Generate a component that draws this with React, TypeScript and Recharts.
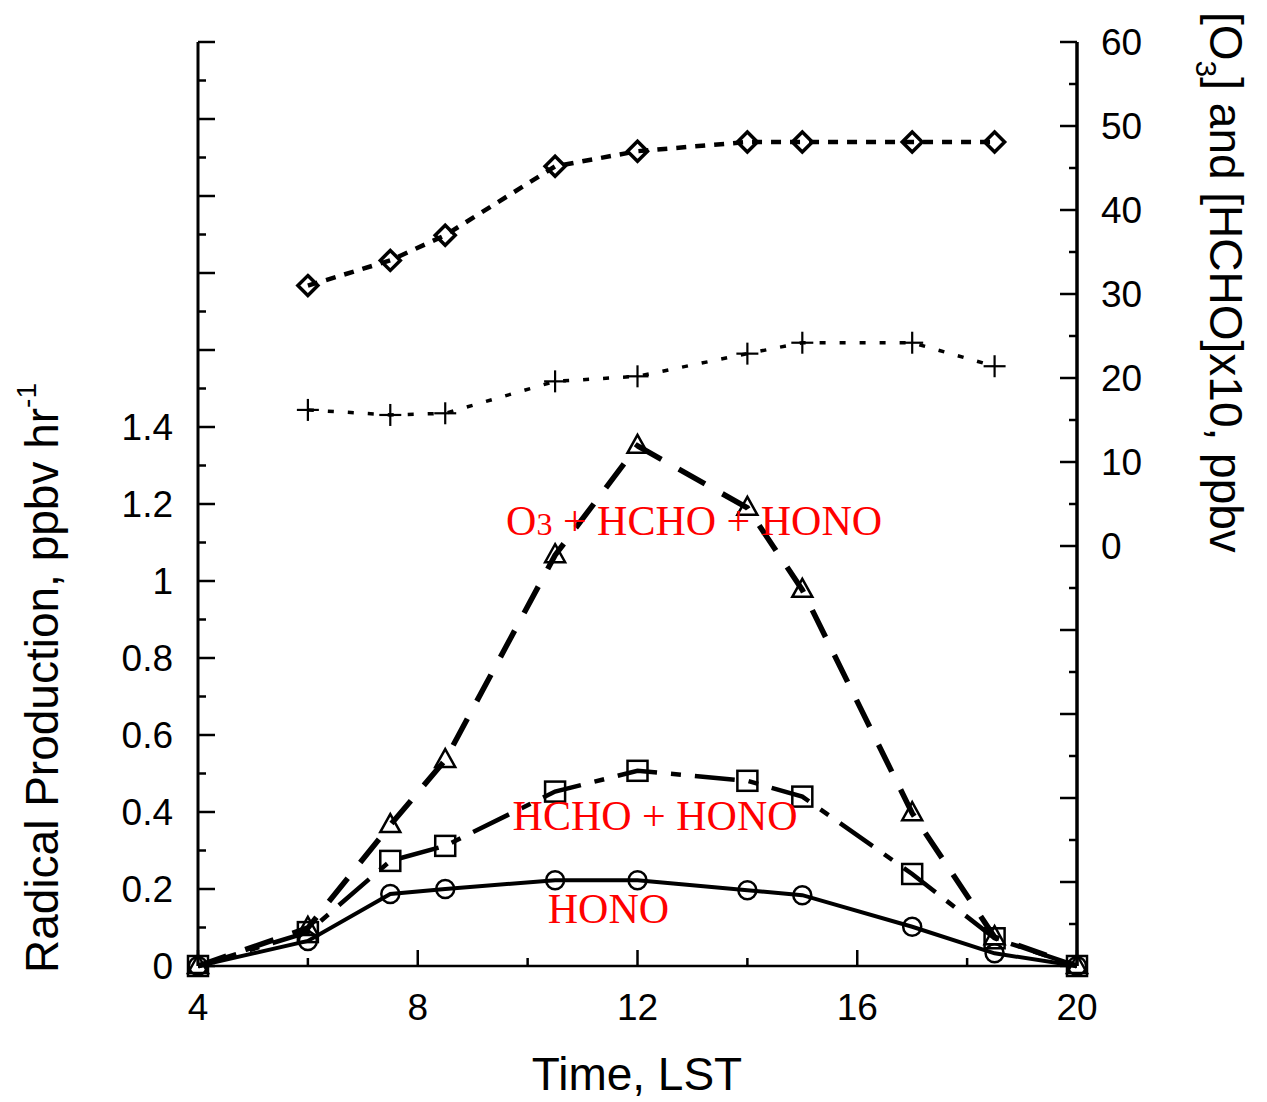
import React from "react";
import { LineChart, Line, XAxis, YAxis, ReferenceDot, Customized } from "recharts";

// hours of day (LST)
const hours = [4, 6, 7.5, 8.5, 10.5, 12, 14, 15, 17, 18.5, 20];
// radical production, ppbv/hr (left axis)
const hono = [0, 0.065, 0.187, 0.2, 0.223, 0.223, 0.197, 0.184, 0.102, 0.033, 0];
const hchoHono = [0, 0.088, 0.273, 0.312, 0.453, 0.507, 0.481, 0.44, 0.239, 0.072, 0];
const o3HchoHono = [0, 0.099, 0.366, 0.535, 1.067, 1.351, 1.19, 0.977, 0.397, 0.075, 0];
// concentrations, ppbv (right axis)
const o3 = [null, 31.0, 34.0, 37.0, 45.2, 47.0, 48.1, 48.1, 48.1, 48.1, null];
const hchoX10 = [null, 16.2, 15.6, 15.8, 19.6, 20.2, 22.9, 24.2, 24.2, 21.4, null];

const xTicks = [4, 6, 8, 10, 12, 14, 16, 18, 20];
const xLabels = [4, 8, 12, 16, 20];
const leftTicks = [0, 0.1, 0.2, 0.3, 0.4, 0.5, 0.6, 0.7, 0.8, 0.9, 1, 1.1, 1.2, 1.3, 1.4, 1.5, 1.6, 1.7, 1.8, 1.9, 2, 2.1, 2.2, 2.3, 2.4];
const leftLabels = [0, 0.2, 0.4, 0.6, 0.8, 1, 1.2, 1.4];
const rightTicks = [-50, -45, -40, -35, -30, -25, -20, -15, -10, -5, 0, 5, 10, 15, 20, 25, 30, 35, 40, 45, 50, 55, 60];
const rightLabels = [0, 10, 20, 30, 40, 50, 60];

const data = hours.map((h, i) => ({
  h,
  hono: hono[i],
  hchoHono: hchoHono[i],
  all: o3HchoHono[i],
  o3: o3[i],
  hcho: hchoX10[i],
}));

const SANS = "'Liberation Sans', Arial, sans-serif";
const SERIF = "'Liberation Serif', 'Times New Roman', serif";
const TICK_FS = 37;

function BottomTick({ x, y, payload }: any) {
  const v = payload.value;
  const len = v % 4 === 0 ? 16 : 8;
  return (
    <g>
      <line x1={x} y1={y} x2={x} y2={y - len} stroke="#000" strokeWidth={2.5} />
      {xLabels.includes(v) && (
        <text x={x} y={y + 54} textAnchor="middle" fontSize={TICK_FS} fontFamily={SANS} fill="#000">
          {v}
        </text>
      )}
    </g>
  );
}

function TopTick({ x, y, payload }: any) {
  const len = payload.value % 4 === 0 ? 16 : 8;
  return <line x1={x} y1={y} x2={x} y2={y + len} stroke="#000" strokeWidth={2.5} />;
}

function LeftTick({ x, y, payload }: any) {
  const v = payload.value;
  const len = Math.round(v * 10) % 2 === 0 ? 17 : 8;
  return (
    <g>
      <line x1={x} y1={y} x2={x + len} y2={y} stroke="#000" strokeWidth={2.5} />
      {leftLabels.includes(v) && (
        <text x={x - 25} y={y + 13} textAnchor="end" fontSize={TICK_FS} fontFamily={SANS} fill="#000">
          {v}
        </text>
      )}
    </g>
  );
}

function RightTick({ x, y, payload }: any) {
  const v = payload.value;
  const len = v % 10 === 0 ? 17 : 8;
  return (
    <g>
      <line x1={x} y1={y} x2={x - len} y2={y} stroke="#000" strokeWidth={2.5} />
      {rightLabels.includes(v) && (
        <text x={x + 24} y={y + 13} textAnchor="start" fontSize={TICK_FS} fontFamily={SANS} fill="#000">
          {v}
        </text>
      )}
    </g>
  );
}

const OpenCircle = ({ cx, cy }: any) =>
  cx == null || cy == null ? null : <circle cx={cx} cy={cy} r={9} fill="none" stroke="#000" strokeWidth={2.5} />;

const OpenSquare = ({ cx, cy }: any) =>
  cx == null || cy == null ? null : (
    <rect x={cx - 10} y={cy - 10} width={20} height={20} fill="none" stroke="#000" strokeWidth={2.5} />
  );

const OpenTriangle = ({ cx, cy }: any) =>
  cx == null || cy == null ? null : (
    <path d={`M${cx},${cy - 11} L${cx + 10},${cy + 7} L${cx - 10},${cy + 7} Z`} fill="none" stroke="#000" strokeWidth={2.5} />
  );

const OpenDiamond = ({ cx, cy }: any) =>
  cx == null || cy == null ? null : (
    <path d={`M${cx},${cy - 10} L${cx + 10},${cy} L${cx},${cy + 10} L${cx - 10},${cy} Z`} fill="none" stroke="#000" strokeWidth={3.5} />
  );

const Plus = ({ cx, cy }: any) =>
  cx == null || cy == null ? null : (
    <g stroke="#000" strokeWidth={2.2}>
      <line x1={cx - 11} y1={cy} x2={cx + 11} y2={cy} />
      <line x1={cx} y1={cy - 11} x2={cx} y2={cy + 11} />
    </g>
  );

function RedLabel({ text, sub }: { text: string; sub?: boolean }) {
  return (props: any) => {
    const vb = props.viewBox || {};
    return (
      <text x={vb.x} y={vb.y} textAnchor="middle" fontSize={42} fontFamily={SERIF} fill="#ff0000">
        {sub ? (
          <>
            O<tspan fontSize={32}>3</tspan>
            {text}
          </>
        ) : (
          text
        )}
      </text>
    );
  };
}

function Titles() {
  return (
    <g fontFamily={SANS} fill="#000">
      <text x={637} y={1090} textAnchor="middle" fontSize={46}>
        Time, LST
      </text>
      <text transform="translate(58,678) rotate(-90)" textAnchor="middle" fontSize={46}>
        Radical Production, ppbv hr
        <tspan fontSize={28} dy={-22}>
          -1
        </tspan>
      </text>
      <text transform="translate(1210,12) rotate(90)" textAnchor="start" fontSize={46}>
        [O
        <tspan fontSize={30} dy={14}>
          3
        </tspan>
        <tspan dy={-14}>] and [HCHO]x10, ppbv</tspan>
      </text>
    </g>
  );
}

export default function App() {
  return (
    <div style={{ position: "absolute", left: 0, top: 0, background: "#fff" }}>
      <LineChart width={1267} height={1102} data={data} margin={{ top: 42, right: 0, bottom: 0, left: 0 }}>
        <XAxis
          dataKey="h"
          type="number"
          domain={[4, 20]}
          ticks={xTicks}
          interval={0}
          height={136}
          tickSize={0}
          tickMargin={0}
          tickLine={false}
          axisLine={{ stroke: "#000", strokeWidth: 2.5 }}
          tick={BottomTick}
        />
        <XAxis
          xAxisId="top"
          orientation="top"
          dataKey="h"
          type="number"
          domain={[4, 20]}
          ticks={xTicks}
          interval={0}
          height={0}
          tickSize={0}
          tickMargin={0}
          tickLine={false}
          axisLine={{ stroke: "#000", strokeWidth: 2.5 }}
          tick={TopTick}
        />
        <YAxis
          yAxisId="left"
          type="number"
          domain={[0, 2.4]}
          ticks={leftTicks}
          interval={0}
          width={198}
          tickSize={0}
          tickMargin={0}
          tickLine={false}
          axisLine={{ stroke: "#000", strokeWidth: 3 }}
          tick={LeftTick}
        />
        <YAxis
          yAxisId="right"
          orientation="right"
          type="number"
          domain={[-50, 60]}
          ticks={rightTicks}
          interval={0}
          width={190}
          tickSize={0}
          tickMargin={0}
          tickLine={false}
          axisLine={{ stroke: "#000", strokeWidth: 3.5 }}
          tick={RightTick}
        />

        <Line yAxisId="right" dataKey="o3" stroke="#000" strokeWidth={4.5} strokeDasharray="10 9" dot={OpenDiamond} isAnimationActive={false} />
        <Line yAxisId="right" dataKey="hcho" stroke="#000" strokeWidth={3.5} strokeDasharray="6 14" dot={Plus} isAnimationActive={false} />
        <Line yAxisId="left" dataKey="all" stroke="#000" strokeWidth={5.5} strokeDasharray="30 20" dot={OpenTriangle} isAnimationActive={false} />
        <Line yAxisId="left" dataKey="hchoHono" stroke="#000" strokeWidth={4.5} strokeDasharray="40 14 10 14" dot={OpenSquare} isAnimationActive={false} />
        <Line yAxisId="left" dataKey="hono" stroke="#000" strokeWidth={4} dot={OpenCircle} isAnimationActive={false} />

        <ReferenceDot yAxisId="left" x={13.03} y={1.119} r={0} stroke="none" label={RedLabel({ text: " + HCHO + HONO", sub: true })} />
        <ReferenceDot yAxisId="left" x={12.32} y={0.353} r={0} stroke="none" label={RedLabel({ text: "HCHO + HONO" })} />
        <ReferenceDot yAxisId="left" x={11.47} y={0.112} r={0} stroke="none" label={RedLabel({ text: "HONO" })} />

        <Customized component={Titles} />
      </LineChart>
    </div>
  );
}
